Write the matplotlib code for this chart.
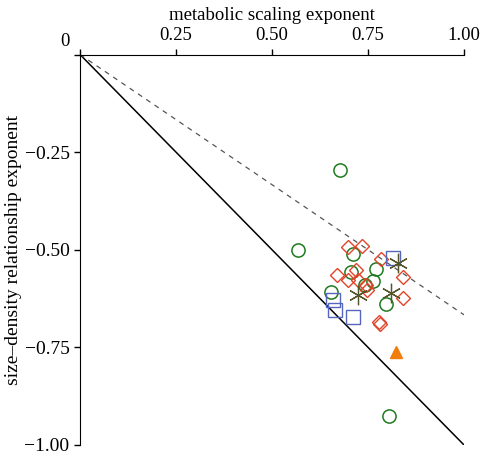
import matplotlib
matplotlib.use("Agg")
import matplotlib.pyplot as plt
import numpy as np

plt.rcParams['font.family'] = ['Liberation Serif', 'DejaVu Serif']
plt.rcParams['font.size'] = 13.5

# data
circle_x = [0.677, 0.568, 0.712, 0.771, 0.705, 0.762, 0.742, 0.653, 0.797, 0.805]
circle_y = [-0.296, -0.500, -0.512, -0.550, -0.558, -0.580, -0.590, -0.609, -0.640, -0.926]

diamond_x = [0.699, 0.734, 0.784, 0.842, 0.668, 0.719, 0.699, 0.725, 0.745, 0.747, 0.842, 0.778, 0.782]
diamond_y = [-0.492, -0.490, -0.524, -0.569, -0.565, -0.552, -0.577, -0.577, -0.590, -0.603, -0.624, -0.686, -0.690]

square_x = [0.816, 0.660, 0.664, 0.710]
square_y = [-0.520, -0.629, -0.654, -0.671]

star_x = [0.829, 0.725, 0.809]
star_y = [-0.535, -0.616, -0.612]

tri_x = [0.822]
tri_y = [-0.763]

xticks = [0.25, 0.50, 0.75, 1.00]
yticks = [-0.25, -0.50, -0.75, -1.00]

fig = plt.figure(figsize=(4.8, 4.57), dpi=100)
ax = fig.add_axes([0.1667, 0.0263, 0.8, 0.8544])

line_x = np.array([0, 1])
ax.plot(line_x, -line_x, color='black', lw=1.1)
ax.plot(line_x, -2 / 3 * line_x, color='#555555', lw=0.9, ls=(0, (4, 4)))

ax.plot(circle_x, circle_y, 'o', mfc='none', mec='#1f7a1f', mew=1.1, ms=9.5)
ax.plot(diamond_x, diamond_y, 'D', mfc='none', mec='#e0442a', mew=1.0, ms=7.5)
ax.plot(square_x, square_y, 's', mfc='none', mec='#5566bb', mew=1.0, ms=9.5)
ax.plot(star_x, star_y, marker=(6, 2, 0), ls='none', color='#55552a', mew=0.9, ms=14)
ax.plot(tri_x, tri_y, '^', color='#f07d0c', mec='#f07d0c', ms=9)

ax.set_xlim(0, 1)
ax.set_ylim(-1, 0)
ax.spines['right'].set_visible(False)
ax.spines['bottom'].set_visible(False)
ax.xaxis.tick_top()
ax.xaxis.set_label_position('top')
ax.set_xticks([0] + xticks)
ax.set_xticklabels([''] + ['%.2f' % t for t in xticks])
ax.set_yticks([0] + yticks)
ax.set_yticklabels([''] + ['\u2212%.2f' % -t for t in yticks])
ax.tick_params(direction='out', length=4, width=1, labelsize=13.5)
ax.tick_params(axis='y', labelsize=14)
ax.set_xlabel('metabolic scaling exponent', labelpad=5)
ax.set_ylabel('size\u2013density relationship exponent', labelpad=2, fontsize=14)
ax.text(-0.04, 0.012, '0', transform=ax.transData, ha='center', va='bottom', fontsize=13.5)

fig.savefig('out.png', dpi=100)
